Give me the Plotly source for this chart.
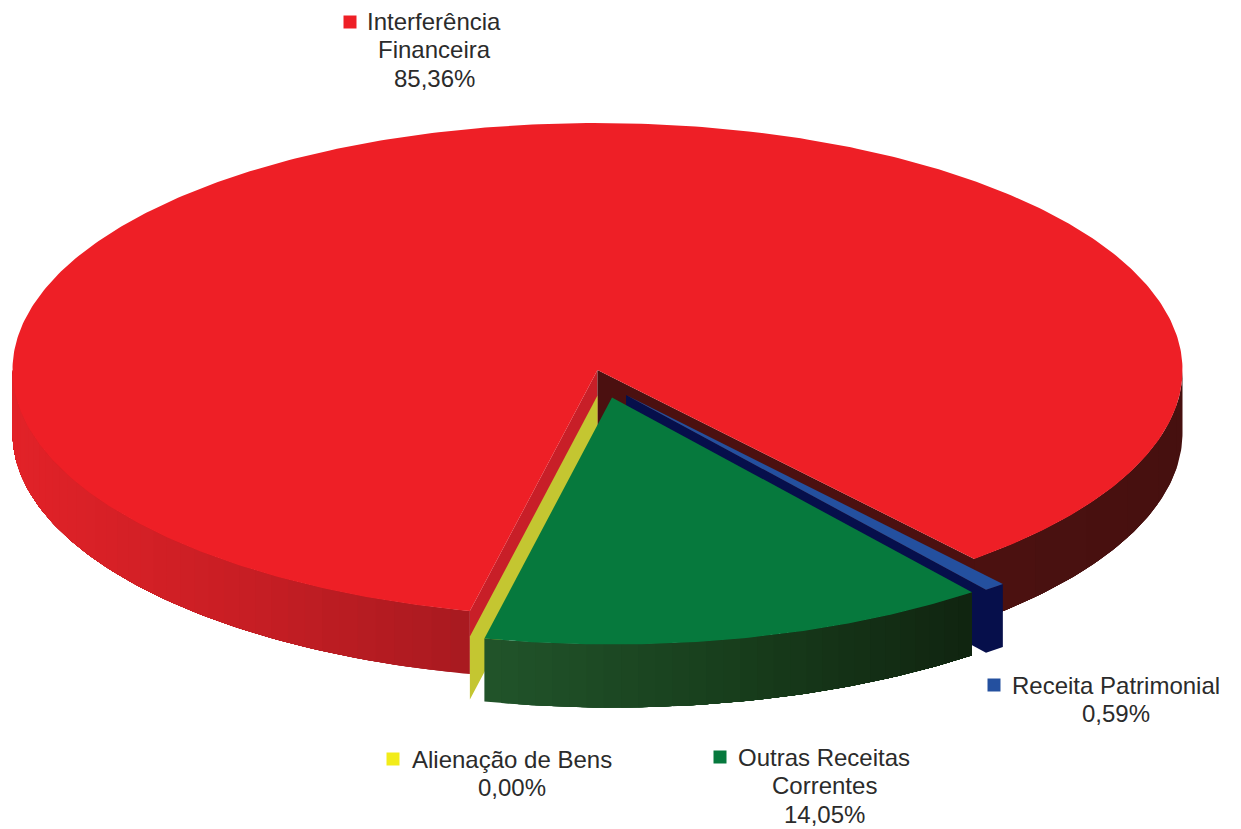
import math
import plotly.graph_objects as go

# ---- data ----
categories = ["Interferência Financeira", "Receita Patrimonial", "Outras Receitas Correntes", "Alienação de Bens"]
values = [85.36, 0.59, 14.05, 0.00]
label_lines = [["Interferência", "Financeira"], ["Receita Patrimonial"], ["Outras Receitas", "Correntes"], ["Alienação de Bens"]]
top_colors = ["#EE1F26", "#24509F", "#06793D", "#F2EC19"]
swatch_colors = ["#EE1F26", "#24509F", "#06793D", "#F2EC19"]

# ---- layout / projection constants ----
W, H = 1241, 829
RX, RY, DEPTH = 585, 247, 63
START = 102.6
centers = [(597.5, 370), (626, 395), (612, 397.5), (597.5, 395.5)]
label_pos = [(434, 21), (1116, 685), (824, 757), (512, 759)]
swatch_pos = [(350, 22), (994, 685), (720, 757), (393, 759)]
FONT = "Liberation Sans"
FONT_SIZE = 24
TEXT = "#2B2B2B"


def pt(c, t, dy=0):
    a = math.radians(t)
    return c[0] + RX * math.cos(a), c[1] + RY * math.sin(a) + dy


def poly(fig, pts, color, lw=0.0):
    xs = [p[0] for p in pts] + [pts[0][0]]
    ys = [p[1] for p in pts] + [pts[0][1]]
    fig.add_trace(go.Scatter(x=xs, y=ys, mode="lines", fill="toself", fillcolor=color,
                             line=dict(color=color, width=lw), hoverinfo="skip", showlegend=False))


def mix(stops, f):
    f = max(0, min(1, f))
    n = len(stops) - 1
    i = min(int(f * n), n - 1)
    g = f * n - i
    return "rgb(%d,%d,%d)" % tuple(round(stops[i][k] + (stops[i + 1][k] - stops[i][k]) * g) for k in range(3))


def wall(fig, c, t0, t1, stops, x0, x1, steps):
    """Outer rim painted as one shrinking band per step, so no seams show."""
    for i in range(steps):
        a = t0 + (t1 - t0) * i / steps
        b = t1
        n = max(2, int(abs(b - a) * 1.5))
        ts = [a + (b - a) * k / n for k in range(n + 1)]
        pts = [pt(c, t) for t in ts] + [pt(c, t, DEPTH) for t in reversed(ts)]
        xm = pt(c, a + (t1 - t0) / steps / 2)[0]
        poly(fig, pts, mix(stops, (xm - x0) / (x1 - x0)))


def sector(fig, c, t0, t1, color):
    n = max(2, int(abs(t1 - t0) * 1.5))
    poly(fig, [c] + [pt(c, t0 + (t1 - t0) * i / n) for i in range(n + 1)], color)


def cut(fig, c, t, color):
    poly(fig, [c, pt(c, t), pt(c, t, DEPTH), (c[0], c[1] + DEPTH)], color)


# cumulative angles straight from the values
edges = [START]
for v in values:
    edges.append(edges[-1] + v * 3.6)

fig = go.Figure()

# Interferência Financeira
c = centers[0]
t0, t1 = edges[0], edges[1]
wall(fig, c, t0, 180, [(168, 26, 32), (200, 30, 36), (226, 34, 40)], 469, 12, 40)
wall(fig, c, 0, t1 - 360, [(70, 16, 15), (76, 17, 16)], 1182, 975, 6)
cut(fig, c, t0, "#C81F28")
cut(fig, c, t1, "#4B1010")
sector(fig, c, t0, t1, top_colors[0])

# Alienação de Bens (zero-width slice: only its cut face shows)
c = centers[3]
cut(fig, c, edges[3], "#C4C631")

# Receita Patrimonial
c = centers[1]
t0, t1 = edges[1] - 360, edges[2] - 360
cut(fig, c, t1, "#060F4B")
wall(fig, c, t0, t1, [(6, 15, 75), (6, 15, 75)], 985, 1005, 1)
sector(fig, c, t0, t1, top_colors[1])

# Outras Receitas Correntes
c = centers[2]
t0, t1 = edges[2] - 360, edges[3] - 360
wall(fig, c, t1, t0, [(33, 84, 42), (24, 62, 28), (16, 36, 16)], 484, 973, 30)
sector(fig, c, t0, t1, top_colors[2])

# legend swatches
fig.add_trace(go.Scatter(x=[p[0] for p in swatch_pos], y=[p[1] for p in swatch_pos], mode="markers",
                         marker=dict(symbol="square", size=13, color=swatch_colors, line=dict(width=0)),
                         hoverinfo="skip", showlegend=False))

annotations = []
for lines, v, (x, y) in zip(label_lines, values, label_pos):
    pct = f"{v:.2f}".replace(".", ",") + "%"
    for k, s in enumerate(lines + [pct]):
        annotations.append(dict(x=x, y=y + k * 28.5, text=s, xref="x", yref="y", showarrow=False,
                                xanchor="center", yanchor="middle",
                                font=dict(family=FONT, size=FONT_SIZE, color=TEXT)))

fig.update_layout(
    width=W, height=H, margin=dict(l=0, r=0, t=0, b=0), paper_bgcolor="white", plot_bgcolor="white",
    xaxis=dict(range=[0, W], visible=False, fixedrange=True),
    yaxis=dict(range=[H, 0], visible=False, fixedrange=True),
    annotations=annotations, showlegend=False,
)
fig.write_html("out.html", post_script="document.body.style.margin='0';document.body.style.overflow='hidden';",
               config={"displayModeBar": False})
